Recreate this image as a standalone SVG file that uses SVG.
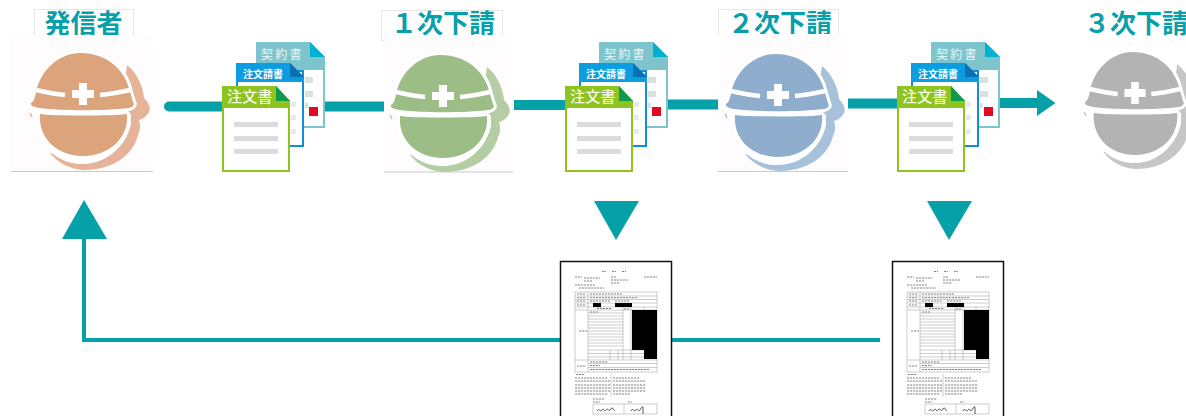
<svg xmlns="http://www.w3.org/2000/svg" width="1186" height="416" viewBox="0 0 1186 416">
<style>
text{font-family:"Noto Sans CJK JP","Noto Sans",sans-serif}
.lab{font-size:26px;font-weight:700;fill:#06a0a9;text-anchor:middle}
.box{fill:#fff;stroke:#e6e6e6}
.tile{fill:#fffcfd}
.edge{stroke:#c9c9c9;fill:none}
.t1{font-size:15px;font-weight:500;fill:#f4fbe6;letter-spacing:.3px}
.t2{font-size:10px;font-weight:700;fill:#fff}
.t3{font-size:12px;letter-spacing:2.2px;fill:#e9f6f7}
.c{fill:none;stroke:#06a0a9}
.tri{fill:#06a0a9}
.fl{stroke:#999;stroke-width:.5;fill:none}
.ft{stroke:#777;stroke-width:.9;stroke-dasharray:2.2 .8;fill:none}
</style>
<defs>
<filter id="soft" x="-5%" y="-5%" width="110%" height="110%"><feGaussianBlur stdDeviation=".5"/></filter>
<g id="helmet">
<path fill="currentColor" d="M44-29C54-21 60-8 61 4C66 9 68 14 66 18C64 22 60 25 56 26C58 32 57 37 55 41C50 62 28 76 2 76C-12 76-25 69-33 59L0 50L40 0Z"/>
<path fill="#fff" d="M-35 56C-22 68-10 70 0 70C25 70 44 50 48 30L48 20L-35 20Z"/>
<g stroke="#fff" stroke-width="6" paint-order="stroke" stroke-linejoin="round">
<path d="M-43 20C-30 22 30 22 44 20C46 45 25 62 0 62C-25 62-45 45-43 20Z"/>
<path d="M-47-2C-42-26-22-41-3-41C26-41 43-22 47-2L50 8C52 11 50 13 46 14C20 17-20 17-44 14C-50 13-53 11-52 9C-50 8-48 5-47-2Z"/>
</g>
<path d="M-47-4C-38-2-28 0-18 1M17 1C28 0 38-2 47-4" fill="none" stroke="#fff" stroke-width="4.500"/>
<path fill="#fff" d="M-4-11H4V-4H11V4H4V11H-4V4H-11V-4H-4Z"/>
<path d="M-53 19L-51 23" stroke="currentColor" stroke-width="1.500"/>
</g>
<g id="stack">
<path fill="#7ec4cd" d="M34 1H88L103 16V28H34Z"/>
<path fill="#fff" stroke="#7ec4cd" stroke-width="2" d="M70 28H102V86H70Z"/>
<path fill="#00b0d0" d="M88 1L103 16H88Z"/>
<path fill="#e00a22" d="M87 66H96V75H87Z"/>
<path fill="#dcdfdf" d="M83 36H91V42H83ZM83 50H91V56H83ZM83 62H86V67H83Z"/>
<path fill="#fff" stroke="#0e8fd6" stroke-width="2" d="M15 30H81V105H15Z"/>
<path fill="#0b9de0" d="M14 22H68L82 36V41H14Z"/>
<path fill="#0b6fb4" d="M68 22L82 36H68Z"/>
<path fill="#e8eaea" d="M69 61H74V66H69ZM69 74H74V79H69ZM69 88H74V93H69Z"/>
<path fill="#fff" stroke="#8fc31f" stroke-width="2" d="M1 60H67V130H1Z"/>
<path fill="#8fc31f" d="M0 45H54L68 60V67H0Z"/>
<path fill="#0c9a4e" d="M54 45L68 60H54Z"/>
<path fill="#dcdcdc" d="M12 81H56V86H12ZM12 95H56V100H12ZM12 108H56V113H12Z"/>
</g>
<g id="form">
<rect x=".5" y=".5" width="111" height="165" fill="#fff" stroke="#111" stroke-width="1.500"/>
<g filter="url(#soft)">
<path class="ft" d="M42 10.500H46M52 10.500H56M62 10.500H66M15 16H22M24 17H40M24 20H32M51 16H56M51 19H68M51 22H60M84 16H97M15 24H35M19 27H44"/>
<path class="fl" d="M15 31H97V111H15ZM15 35H97M15 38.500H97M15 42H97M15 46H97M15 49H97M28 31V111M63 46V99M71 46V99M84 46V50M15 99H97M28 102.500H97M28 106.500H97M28 89H84M28 92.500H84M28 96H84M58 89V99M50 89V99M28 52H63M28 55H63M28 58H63M28 61H63M28 64H63M28 67H63M28 70H63M28 73H63M28 76H63M28 79H63M28 82H63M28 85H63"/>
<path class="ft" d="M17 33H26M30 33H62M17 36.700H26M30 36.700H78M17 40H26M30 40H50M55 40H70M17 44H26M37 47.500H52M30 51H38M64 48H69M19 70H27M17 105H26M30 101H48M30 104.500H40M30 108.500H90M16 113.500H24"/>
<path class="ft" d="M15 117H48M15 120H50M15 124H50M15 127H50M15 130H50M15 133H48M53 117H80M53 120H86M53 124H86M53 127H86M53 130H86M53 133H70M33 138H45M33 141H40M68 141H72"/>
<path class="fl" d="M51 113V136M33 143H97V153H33ZM64 143V153"/>
<path d="M37 150c2-4 3 2 5-1s2 3 4 0 3 3 5-1 2 3 4 1M71 150c2-4 3 2 5-1s2 3 4 0 2-4 3-3V153" stroke="#444" stroke-width=".9" fill="none"/>
</g>
<path d="M33 42H41V46H33ZM55 42H72V46H55ZM72 49H97V89H72ZM84 89H97V98H84Z" fill="#000"/>
</g>
</defs>

<g id="connectors">
<path class="c" stroke-width="10" stroke-linecap="round" d="M169 106.500H386"/>
<path class="c" stroke-width="10" d="M514 105H570M632 104.500H718M848 103.500H900M1000 103H1038"/>
<path class="tri" d="M1037 90L1055.500 103L1037 116Z"/>
<path class="c" stroke-width="4" d="M880 340H672M560 340H84V238"/>
<path class="tri" d="M62 239L84 200L107 239Z"/>
<path class="tri" d="M594 201H639L616 240Z"/>
<path class="tri" d="M927 201H972L949 240Z"/>
</g>

<g id="node-hassin">
<rect class="box" x="34.500" y="9.500" width="99" height="30"/>
<text class="lab" x="83.500" y="33">発信者</text>
<rect class="tile" x="11" y="35" width="142" height="136"/>
<path class="edge" d="M11 171.500H153"/>
<use href="#helmet" transform="translate(83 94)" fill="#dca47c" color="#e5b498"/>
</g>

<g id="docs-1">
<use href="#stack" transform="translate(222 41)"/>
<text class="t3" x="261" y="59">契約書</text>
<text class="t2" x="243" y="78">注文請書</text>
<text class="t1" x="227" y="102">注文書</text>
</g>

<g id="node-1">
<rect class="box" x="381.500" y="10.500" width="121" height="30"/>
<text class="lab" x="443" y="33">１次下請</text>
<rect class="tile" x="384" y="35" width="129" height="136.500"/>
<path class="edge" d="M384 172H513"/>
<use href="#helmet" transform="translate(443 96)" fill="#9dbd87" color="#b4cda3"/>
</g>

<g id="docs-2">
<use href="#stack" transform="translate(565 41)"/>
<text class="t3" x="604" y="59">契約書</text>
<text class="t2" x="586" y="78">注文請書</text>
<text class="t1" x="570" y="102">注文書</text>
</g>

<g id="node-2">
<rect class="box" x="718.500" y="9.500" width="120" height="30"/>
<text class="lab" x="780" y="33">２次下請</text>
<rect class="tile" x="718" y="34" width="130" height="137"/>
<path class="edge" d="M718 171.500H848"/>
<use href="#helmet" transform="translate(778 95)" fill="#8fadcd" color="#a8c1da"/>
</g>

<g id="docs-3">
<use href="#stack" transform="translate(897 41)"/>
<text class="t3" x="936" y="59">契約書</text>
<text class="t2" x="918" y="78">注文請書</text>
<text class="t1" x="902" y="102">注文書</text>
</g>

<g id="node-3">
<text class="lab" x="1136" y="33">３次下請</text>
<use href="#helmet" transform="translate(1135 93) scale(.96 1)" fill="#b3b3b3" color="#c6c6c6"/>
</g>

<g id="form-1"><use href="#form" transform="translate(560 261)"/></g>
<g id="form-2"><use href="#form" transform="translate(892 261)"/></g>
</svg>
